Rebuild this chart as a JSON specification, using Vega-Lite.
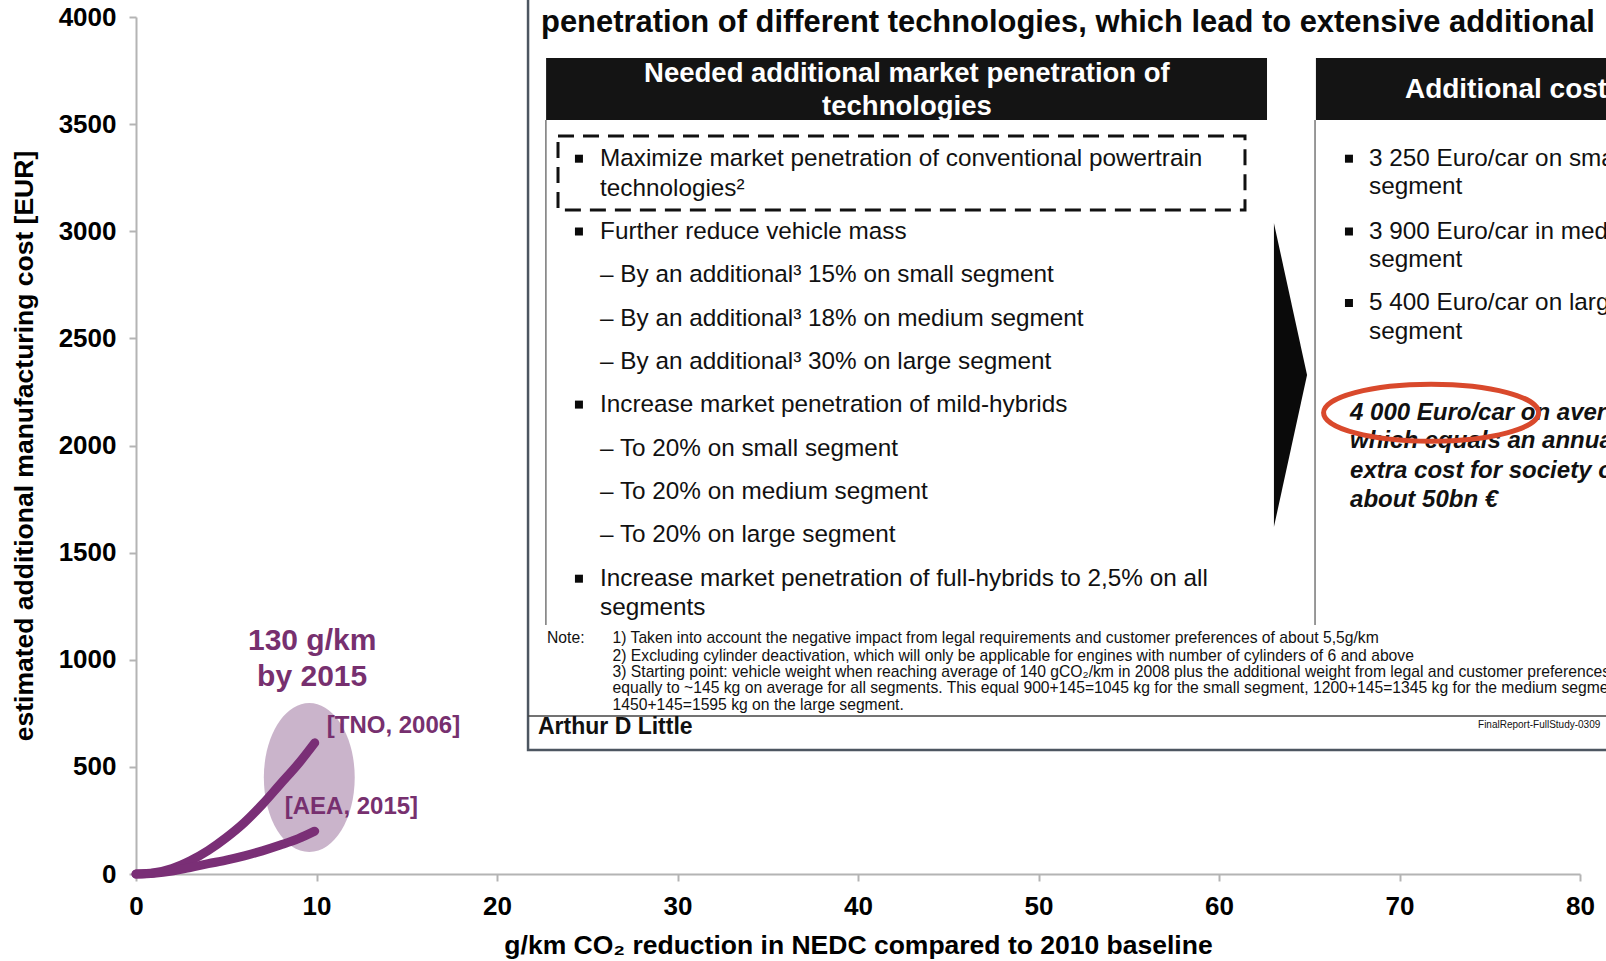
{
  "$schema": "https://vega.github.io/schema/vega-lite/v6.json",
  "width": 1444,
  "height": 857,
  "autosize": {"type": "none"},
  "padding": {"left": 136, "top": 17, "right": 26, "bottom": 87},
  "background": "white",
  "config": {
    "view": {"stroke": null},
    "font": "Liberation Sans",
    "axis": {
      "grid": false,
      "domainColor": "#b4b4b4",
      "domainWidth": 2,
      "tickColor": "#b4b4b4",
      "tickWidth": 2,
      "tickSize": 7,
      "labelFont": "Liberation Sans",
      "labelFontSize": 26,
      "labelFontWeight": "bold",
      "labelColor": "#000000",
      "labelFlush": false,
      "labelOverlap": false,
      "titleFont": "Liberation Sans",
      "titleFontSize": 26.5,
      "titleFontWeight": "bold",
      "titleColor": "#000000"
    }
  },
  "datasets": {
    "curves": [
      {"study": "TNO 2006", "x": 0, "y": 0},
      {"study": "TNO 2006", "x": 1, "y": 6},
      {"study": "TNO 2006", "x": 2, "y": 26},
      {"study": "TNO 2006", "x": 3, "y": 62},
      {"study": "TNO 2006", "x": 4, "y": 110},
      {"study": "TNO 2006", "x": 5, "y": 170},
      {"study": "TNO 2006", "x": 6, "y": 240},
      {"study": "TNO 2006", "x": 7, "y": 325},
      {"study": "TNO 2006", "x": 8, "y": 420},
      {"study": "TNO 2006", "x": 9, "y": 515},
      {"study": "TNO 2006", "x": 9.9, "y": 612},
      {"study": "AEA 2015", "x": 0, "y": 0},
      {"study": "AEA 2015", "x": 1, "y": 4},
      {"study": "AEA 2015", "x": 2, "y": 14},
      {"study": "AEA 2015", "x": 3, "y": 30},
      {"study": "AEA 2015", "x": 4, "y": 48},
      {"study": "AEA 2015", "x": 5, "y": 65},
      {"study": "AEA 2015", "x": 6, "y": 85},
      {"study": "AEA 2015", "x": 7, "y": 108},
      {"study": "AEA 2015", "x": 8, "y": 135},
      {"study": "AEA 2015", "x": 9, "y": 165},
      {"study": "AEA 2015", "x": 9.9, "y": 200}
    ],
    "target": [{"x": 9.6, "y": 450}],
    "targetLabel": [
      {"text": "130 g/km", "x": 9.76, "y": 1087},
      {"text": "by 2015", "x": 9.76, "y": 919}
    ],
    "sourceLabels": [
      {"text": "[TNO, 2006]", "x": 10.57, "y": 691},
      {"text": "[AEA, 2015]", "x": 8.24, "y": 313}
    ],
    "panel": [{"x": 21.72, "x2": 85, "y": 578.8, "y2": 4300}],
    "headerBars": [
      {"x": 22.72, "x2": 62.66, "y": 3519, "y2": 3809},
      {"x": 65.37, "x2": 85, "y": 3519, "y2": 3809}
    ],
    "focusBox": [{"x": 23.38, "x2": 61.44, "y": 3099, "y2": 3444}],
    "columnRules": [
      {"x": 22.71, "y": 1162, "y2": 3519},
      {"x": 65.32, "y": 1162, "y2": 3519}
    ],
    "noteRule": [{"x": 21.72, "x2": 85, "y": 737}],
    "title": [{"text": "penetration of different technologies, which lead to extensive additional", "x": 22.44, "y": 3974}],
    "headerLeft": [
      {"text": "Needed additional market penetration of", "x": 42.71, "y": 3734},
      {"text": "technologies", "x": 42.71, "y": 3582}
    ],
    "headerRight": [{"text": "Additional costs", "x": 70.3, "y": 3659}],
    "body": [
      {"text": "Maximize market penetration of conventional powertrain", "x": 25.71, "y": 3338.6},
      {"text": "technologies²", "x": 25.71, "y": 3199.5},
      {"text": "Further reduce vehicle mass", "x": 25.71, "y": 2998.8},
      {"text": "– By an additional³ 15% on small segment", "x": 25.71, "y": 2798.1},
      {"text": "– By an additional³ 18% on medium segment", "x": 25.71, "y": 2592.7},
      {"text": "– By an additional³ 30% on large segment", "x": 25.71, "y": 2392.0},
      {"text": "Increase market penetration of mild-hybrids", "x": 25.71, "y": 2190.9},
      {"text": "– To 20% on small segment", "x": 25.71, "y": 1985.5},
      {"text": "– To 20% on medium segment", "x": 25.71, "y": 1784.8},
      {"text": "– To 20% on large segment", "x": 25.71, "y": 1584.1},
      {"text": "Increase market penetration of full-hybrids to 2,5% on all", "x": 25.71, "y": 1378.3},
      {"text": "segments", "x": 25.71, "y": 1239.7},
      {"text": "3 250 Euro/car on small", "x": 68.31, "y": 3338.6},
      {"text": "segment", "x": 68.31, "y": 3204.6},
      {"text": "3 900 Euro/car in medium", "x": 68.31, "y": 2998.8},
      {"text": "segment", "x": 68.31, "y": 2865.8},
      {"text": "5 400 Euro/car on large", "x": 68.31, "y": 2665.1},
      {"text": "segment", "x": 68.31, "y": 2530.7}
    ],
    "bullets": [
      {"x": 24.54, "y": 3338.6},
      {"x": 24.54, "y": 2998.8},
      {"x": 24.54, "y": 2190.9},
      {"x": 24.54, "y": 1378.3},
      {"x": 67.2, "y": 3338.6},
      {"x": 67.2, "y": 2998.8},
      {"x": 67.2, "y": 2665.1}
    ],
    "conclusion": [
      {"text": "4 000 Euro/car on average", "x": 67.26, "y": 2153.1},
      {"text": "which equals an annual", "x": 67.26, "y": 2019.1},
      {"text": "extra cost for society of", "x": 67.26, "y": 1881.0},
      {"text": "about 50bn €", "x": 67.26, "y": 1746.5}
    ],
    "highlight": [{"x": 71.75, "y": 2153}],
    "arrow": [{"x": 63.96, "y": 2329}],
    "notes": [
      {"text": "Note:", "x": 22.77, "y": 1101.5},
      {"text": "1) Taken into account the negative impact from legal requirements and customer preferences of about 5,5g/km", "x": 26.4, "y": 1101.5},
      {"text": "2) Excluding cylinder deactivation, which will only be applicable for engines with number of cylinders of 6 and above", "x": 26.4, "y": 1019.8},
      {"text": "3) Starting point: vehicle weight when reaching average of 140 gCO₂/km in 2008 plus the additional weight from legal and customer preferences", "x": 26.4, "y": 942.8},
      {"text": "equally to ~145 kg on average for all segments. This equal 900+145=1045 kg for the small segment, 1200+145=1345 kg for the medium segment", "x": 26.4, "y": 868.1},
      {"text": "1450+145=1595 kg on the large segment.", "x": 26.4, "y": 790.7}
    ],
    "logo": [{"text": "Arthur D Little", "x": 22.27, "y": 686}],
    "footer": [{"text": "FinalReport-FullStudy-0309", "x": 74.35, "y": 695}]
  },
  "encoding": {
    "x": {
      "field": "x",
      "type": "quantitative",
      "scale": {"domain": [0, 80], "nice": false, "zero": false},
      "axis": {
        "values": [0, 10, 20, 30, 40, 50, 60, 70, 80],
        "labelPadding": 12,
        "titlePadding": 13,
        "title": "g/km CO₂ reduction in NEDC compared to 2010 baseline"
      }
    },
    "y": {
      "field": "y",
      "type": "quantitative",
      "scale": {"domain": [0, 4000], "nice": false, "zero": false},
      "axis": {
        "values": [0, 500, 1000, 1500, 2000, 2500, 3000, 3500, 4000],
        "format": "d",
        "labelPadding": 13,
        "titlePadding": 20,
        "title": "estimated additional manufacturing cost [EUR]"
      }
    }
  },
  "layer": [
    {
      "data": {"name": "target"},
      "mark": {
        "type": "point",
        "shape": "M -0.61 0 A 0.61 1 0 1 1 0.61 0 A 0.61 1 0 1 1 -0.61 0 Z",
        "size": 22201,
        "filled": true,
        "fill": "#cab4cb",
        "opacity": 1,
        "strokeWidth": 0
      }
    },
    {
      "data": {"name": "curves"},
      "mark": {
        "type": "line",
        "interpolate": "monotone",
        "color": "#7a2f76",
        "strokeWidth": 9,
        "strokeCap": "round",
        "strokeJoin": "round"
      },
      "encoding": {"detail": {"field": "study", "type": "nominal"}}
    },
    {
      "data": {"name": "targetLabel"},
      "mark": {"type": "text", "align": "center", "baseline": "middle", "fontSize": 30, "fontWeight": "bold", "color": "#77306f"},
      "encoding": {"text": {"field": "text", "type": "nominal"}}
    },
    {
      "data": {"name": "sourceLabels"},
      "mark": {"type": "text", "align": "left", "baseline": "middle", "fontSize": 24, "fontWeight": "bold", "color": "#77306f"},
      "encoding": {"text": {"field": "text", "type": "nominal"}}
    },
    {
      "data": {"name": "panel"},
      "mark": {"type": "rect", "fill": "white", "stroke": "#4d5661", "strokeWidth": 2.5},
      "encoding": {"x2": {"field": "x2"}, "y2": {"field": "y2"}}
    },
    {
      "data": {"name": "headerBars"},
      "mark": {"type": "rect", "fill": "#141414"},
      "encoding": {"x2": {"field": "x2"}, "y2": {"field": "y2"}}
    },
    {
      "data": {"name": "focusBox"},
      "mark": {"type": "rect", "fill": null, "fillOpacity": 0, "stroke": "#111111", "strokeWidth": 3, "strokeDash": [16, 9]},
      "encoding": {"x2": {"field": "x2"}, "y2": {"field": "y2"}}
    },
    {
      "data": {"name": "columnRules"},
      "mark": {"type": "rule", "color": "#555555", "strokeWidth": 1.2},
      "encoding": {"y2": {"field": "y2"}}
    },
    {
      "data": {"name": "noteRule"},
      "mark": {"type": "rule", "color": "#444444", "strokeWidth": 1.5},
      "encoding": {"x2": {"field": "x2"}}
    },
    {
      "data": {"name": "arrow"},
      "mark": {
        "type": "point",
        "shape": "M -0.109 -1 L 0.109 0 L -0.109 1 Z",
        "size": 92416,
        "filled": true,
        "fill": "#0a0a0a",
        "opacity": 1,
        "strokeWidth": 0
      }
    },
    {
      "data": {"name": "title"},
      "mark": {"type": "text", "align": "left", "baseline": "middle", "fontSize": 30.9, "fontWeight": "bold", "color": "#0a0a0a"},
      "encoding": {"text": {"field": "text", "type": "nominal"}}
    },
    {
      "data": {"name": "headerLeft"},
      "mark": {"type": "text", "align": "center", "baseline": "middle", "fontSize": 27.5, "fontWeight": "bold", "color": "white"},
      "encoding": {"text": {"field": "text", "type": "nominal"}}
    },
    {
      "data": {"name": "headerRight"},
      "mark": {"type": "text", "align": "left", "baseline": "middle", "fontSize": 28, "fontWeight": "bold", "color": "white"},
      "encoding": {"text": {"field": "text", "type": "nominal"}}
    },
    {
      "data": {"name": "bullets"},
      "mark": {"type": "point", "shape": "square", "size": 64, "filled": true, "fill": "#0a0a0a", "opacity": 1, "strokeWidth": 0}
    },
    {
      "data": {"name": "body"},
      "mark": {"type": "text", "align": "left", "baseline": "middle", "fontSize": 24.3, "color": "#111111"},
      "encoding": {"text": {"field": "text", "type": "nominal"}}
    },
    {
      "data": {"name": "conclusion"},
      "mark": {"type": "text", "align": "left", "baseline": "middle", "fontSize": 24, "fontWeight": "bold", "fontStyle": "italic", "color": "#111111"},
      "encoding": {"text": {"field": "text", "type": "nominal"}}
    },
    {
      "data": {"name": "highlight"},
      "mark": {
        "type": "point",
        "shape": "M -1 0 A 1 0.265 0 1 1 1 0 A 1 0.265 0 1 1 -1 0 Z",
        "size": 46225,
        "filled": false,
        "stroke": "#d9492c",
        "strokeWidth": 5,
        "opacity": 1
      }
    },
    {
      "data": {"name": "notes"},
      "mark": {"type": "text", "align": "left", "baseline": "middle", "fontSize": 15.7, "color": "#111111"},
      "encoding": {"text": {"field": "text", "type": "nominal"}}
    },
    {
      "data": {"name": "logo"},
      "mark": {"type": "text", "align": "left", "baseline": "middle", "fontSize": 23, "fontWeight": 900, "color": "#111111"},
      "encoding": {"text": {"field": "text", "type": "nominal"}}
    },
    {
      "data": {"name": "footer"},
      "mark": {"type": "text", "align": "left", "baseline": "middle", "fontSize": 10, "color": "#111111"},
      "encoding": {"text": {"field": "text", "type": "nominal"}}
    }
  ]
}
